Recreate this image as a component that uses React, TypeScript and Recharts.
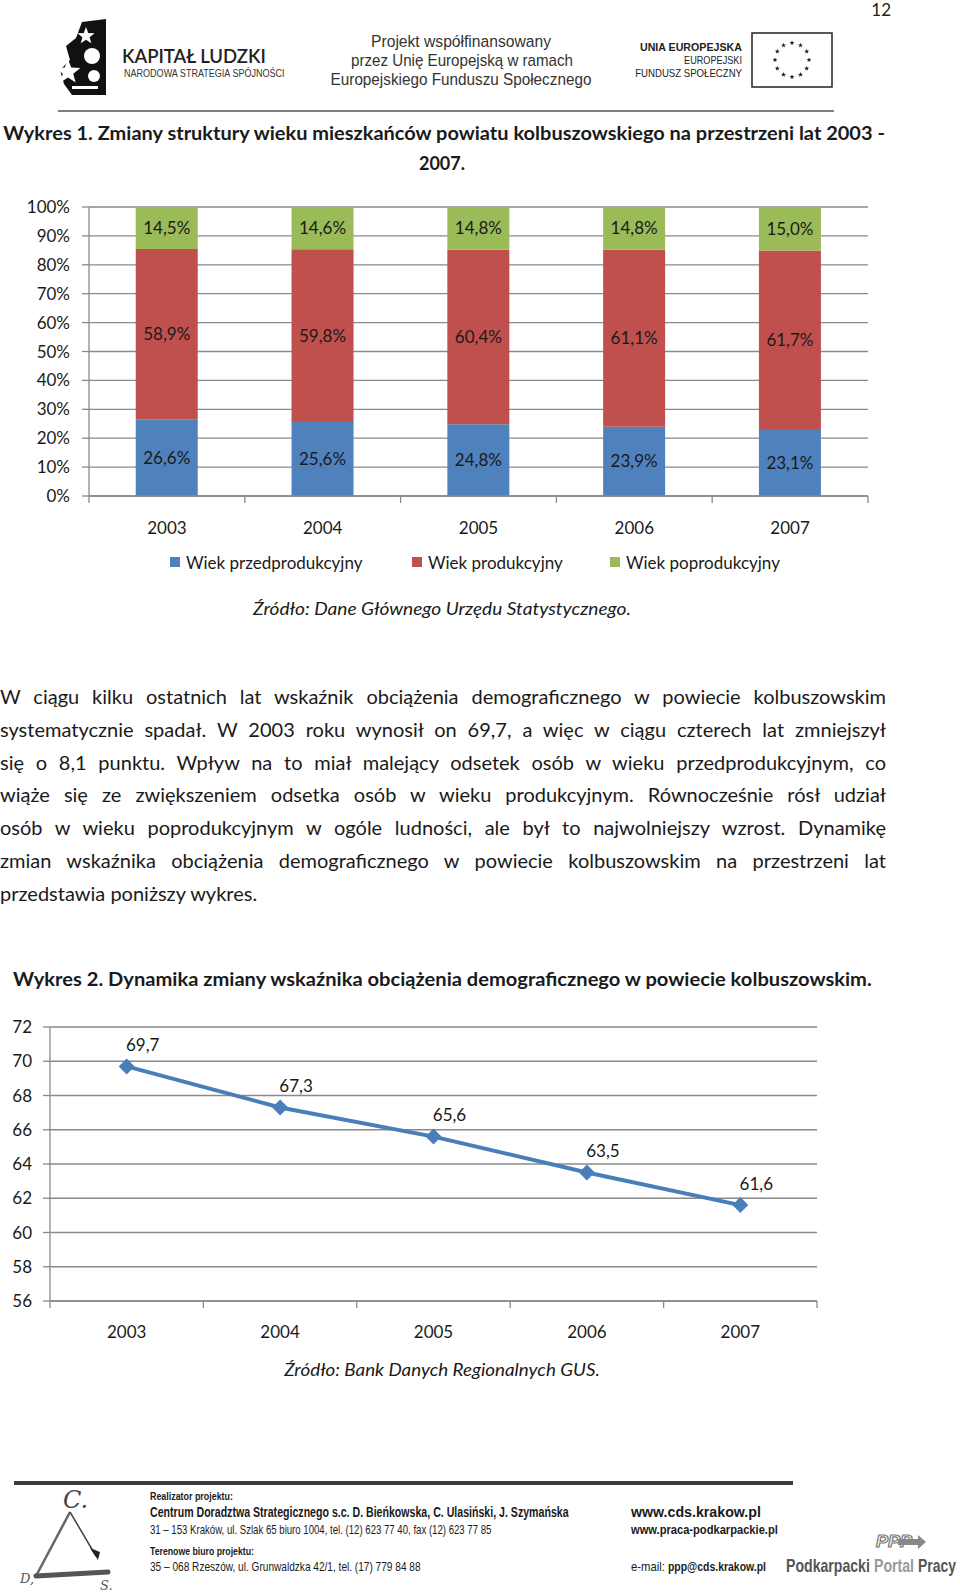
import React, { useLayoutEffect, useRef, useState } from "react";
import {
  Bar,
  BarChart,
  CartesianGrid,
  LabelList,
  Legend,
  Line,
  LineChart,
  XAxis,
  YAxis,
} from "recharts";

// ---- data ----
const years = ["2003", "2004", "2005", "2006", "2007"];
const preProductive = [26.6, 25.6, 24.8, 23.9, 23.1];
const productive = [58.9, 59.8, 60.4, 61.1, 61.7];
const postProductive = [14.5, 14.6, 14.8, 14.8, 15.0];
const pctTicks = [0, 0.1, 0.2, 0.3, 0.4, 0.5, 0.6, 0.7, 0.8, 0.9, 1];

const dependencyRatio = [69.7, 67.3, 65.6, 63.5, 61.6];
const ratioTicks = [56, 58, 60, 62, 64, 66, 68, 70, 72];

const seriesNames = ["Wiek przedprodukcyjny", "Wiek produkcyjny", "Wiek poprodukcyjny"];

const paragraph = [
  "W ciągu kilku ostatnich lat wskaźnik obciążenia demograficznego w powiecie kolbuszowskim",
  "systematycznie spadał. W 2003 roku wynosił on 69,7, a więc w ciągu czterech lat zmniejszył",
  "się o 8,1 punktu. Wpływ na to miał malejący odsetek osób w wieku przedprodukcyjnym, co",
  "wiąże się ze zwiększeniem odsetka osób w wieku produkcyjnym. Równocześnie rósł udział",
  "osób w wieku poprodukcyjnym w ogóle ludności, ale był to najwolniejszy wzrost. Dynamikę",
  "zmian wskaźnika obciążenia demograficznego w powiecie kolbuszowskim na przestrzeni lat",
  "przedstawia poniższy wykres.",
];

const structureRows = years.map((year, i) => ({
  year,
  pre: preProductive[i],
  prod: productive[i],
  post: postProductive[i],
}));
const ratioRows = years.map((year, i) => ({ year, value: dependencyRatio[i] }));

// ---- look ----
const FONT = "Lato, 'Open Sans', sans-serif";
const NARROW = "'Liberation Sans Narrow', 'Liberation Sans', Roboto, sans-serif";
const GRID = "#8a8a8a";
const INK = "#1a1a1a";
const BLUE = "#4F81BD";
const RED = "#C0504D";
const GREEN = "#9BBB59";
const LINE_BLUE = "#4A7EBB";

const C1 = { w: 900, h: 400, top: 17, right: 32, left: 89, bottom: 14 };
const C1_BAND = (C1.w - C1.left - C1.right) / years.length;
const C2 = { w: 900, h: 350, top: 27, right: 83, left: 50 };
const C2_BAND = (C2.w - C2.left - C2.right) / years.length;

const comma = (v: number) => v.toFixed(1).replace(".", ",");

function BoundaryTick(props: any) {
  const { x, y, payload, index, band, dy } = props;
  const last = index === years.length - 1;
  return (
    <g>
      <line x1={x - band / 2} x2={x - band / 2} y1={y} y2={y + 7} stroke={GRID} strokeWidth={1.3} />
      {last && <line x1={x + band / 2} x2={x + band / 2} y1={y} y2={y + 7} stroke={GRID} strokeWidth={1.3} />}
      <text x={x} y={y + dy} textAnchor="middle" dominantBaseline="central" fill={INK} fontSize={17} fontFamily={FONT}>
        {payload.value}
      </text>
    </g>
  );
}

function Diamond(props: any) {
  const { cx, cy } = props;
  if (cx == null || cy == null) return null;
  const r = 8;
  return <polygon points={`${cx},${cy - r} ${cx + r},${cy} ${cx},${cy + r} ${cx - r},${cy}`} fill={LINE_BLUE} />;
}

function PointLabel(props: any) {
  const { x, y, value } = props;
  return (
    <text x={x + 16} y={y - 22} textAnchor="middle" dominantBaseline="central" fill={INK} fontSize={17} fontFamily={FONT}>
      {comma(value)}
    </text>
  );
}

const legendX = [170, 412, 610];
function StructureLegend(props: any) {
  const items = [...(props.payload || [])].sort(
    (a: any, b: any) => seriesNames.indexOf(a.value) - seriesNames.indexOf(b.value)
  );
  return (
    <div style={{ position: "relative", height: 28, width: C1.w - C1.right }}>
      {items.map((it: any, i: number) => (
        <div
          key={it.value}
          style={{ position: "absolute", left: legendX[i], top: 0, height: 28, display: "flex", alignItems: "center" }}
        >
          <span style={{ width: 10, height: 10, background: it.color, marginRight: 6 }} />
          <span style={{ fontFamily: FONT, fontSize: 17, color: INK, whiteSpace: "nowrap" }}>{it.value}</span>
        </div>
      ))}
    </div>
  );
}

// text squeezed/stretched horizontally to a measured width (w) with a transform,
// so the glyphs keep their height like the condensed faces on the page
function T(p: {
  x: number;
  y: number;
  w?: number;
  size: number;
  weight?: number | string;
  italic?: boolean;
  anchor?: "start" | "middle" | "end";
  fill?: string;
  family?: string;
  stroke?: string;
  children: React.ReactNode;
}) {
  const ref = useRef<SVGTextElement>(null);
  const [sx, setSx] = useState(1);
  useLayoutEffect(() => {
    if (!p.w || !ref.current) return;
    const natural = ref.current.getComputedTextLength();
    if (natural > 0) setSx(p.w / natural);
  }, [p.w]);
  return (
    <text
      ref={ref}
      x={0}
      y={0}
      transform={`translate(${p.x},${p.y}) scale(${sx},1)`}
      fontSize={p.size}
      fontWeight={p.weight}
      fontStyle={p.italic ? "italic" : undefined}
      textAnchor={p.anchor || "start"}
      fill={p.fill || INK}
      stroke={p.stroke}
      strokeWidth={p.stroke ? 1.1 : undefined}
      fontFamily={p.family || FONT}
    >
      {p.children}
    </text>
  );
}

function starPoints(cx: number, cy: number, r: number) {
  const pts: string[] = [];
  for (let k = 0; k < 10; k++) {
    const a = -Math.PI / 2 + (k * Math.PI) / 5;
    const rr = k % 2 === 0 ? r : r * 0.42;
    pts.push(`${cx + rr * Math.cos(a)},${cy + rr * Math.sin(a)}`);
  }
  return pts.join(" ");
}

function PageDecor() {
  const euStars = Array.from({ length: 12 }, (_, k) => {
    const a = (k * Math.PI) / 6;
    return starPoints(792 + 17 * Math.cos(a), 60 + 17 * Math.sin(a), 2.6);
  });
  return (
    <svg width={960} height={1594} style={{ position: "absolute", left: 0, top: 0 }}>
      <T x={891} y={16} size={17} anchor="end" fill="#222">12</T>

      {/* Kapitał Ludzki sign */}
      <polygon points="82,22 106,19 106,95 72,95 64,84 60,70 70,60 66,46 76,38" fill="#111" />
      <polygon points={starPoints(86, 36, 9)} fill="#fff" />
      <polygon points={starPoints(68, 72, 13)} fill="#fff" />
      <circle cx={92} cy={56} r={8} fill="#fff" />
      <circle cx={94} cy={76} r={6} fill="#fff" />
      <rect x={72} y={86} width={26} height={3} fill="#fff" />
      <T x={122} y={63} w={144} size={20} weight={600} fill="#222">KAPITAŁ LUDZKI</T>
      <T x={124} y={77} w={161} size={10} fill="#333" family={NARROW}>NARODOWA STRATEGIA SPÓJNOŚCI</T>

      <T x={461} y={47} w={180} size={17} anchor="middle" fill="#333" family={NARROW}>Projekt współfinansowany</T>
      <T x={462} y={66} w={222} size={17} anchor="middle" fill="#333" family={NARROW}>przez Unię Europejską w ramach</T>
      <T x={461} y={85} w={261} size={17} anchor="middle" fill="#333" family={NARROW}>Europejskiego Funduszu Społecznego</T>

      <T x={640} y={51} w={102} size={11} weight={700} fill="#222" family={NARROW}>UNIA EUROPEJSKA</T>
      <T x={742} y={64} w={58} size={10} anchor="end" fill="#222" family={NARROW}>EUROPEJSKI</T>
      <T x={742} y={77} w={107} size={10} anchor="end" fill="#222" family={NARROW}>FUNDUSZ SPOŁECZNY</T>
      <rect x={752} y={33} width={80} height={54} fill="#fff" stroke="#222" strokeWidth={1.5} />
      {euStars.map((pts, k) => (
        <polygon key={k} points={pts} fill="#222" />
      ))}

      <line x1={58} x2={834} y1={111} y2={111} stroke="#555" strokeWidth={1.5} />

      <T x={444} y={140} w={882} size={18} weight={700} anchor="middle">
        Wykres 1. Zmiany struktury wieku mieszkańców powiatu kolbuszowskiego na przestrzeni lat 2003 -
      </T>
      <T x={442} y={170} size={18} weight={700} anchor="middle">2007.</T>

      <T x={442} y={615} w={378} size={17} italic anchor="middle">Źródło: Dane Głównego Urzędu Statystycznego.</T>

      <T x={13} y={986} w={859} size={18} weight={700}>
        Wykres 2. Dynamika zmiany wskaźnika obciążenia demograficznego w powiecie kolbuszowskim.
      </T>

      <T x={442} y={1376} w={316} size={17} italic anchor="middle">Źródło: Bank Danych Regionalnych GUS.</T>

      {/* footer */}
      <rect x={14} y={1481} width={779} height={4} fill="#3c3c3c" />
      <T x={63} y={1508} size={24} italic fill="#444" family="'DejaVu Serif', serif">C.</T>
      <T x={20} y={1583} size={13} italic fill="#555" family="'DejaVu Serif', serif">D,</T>
      <T x={100} y={1590} size={13} italic fill="#555" family="'DejaVu Serif', serif">S.</T>
      <line x1={70} y1={1512} x2={36} y2={1576} stroke="#666" strokeWidth={2.5} />
      <line x1={70} y1={1512} x2={96} y2={1556} stroke="#444" strokeWidth={1.5} />
      <polygon points="90,1548 100,1552 98,1560" fill="#222" />
      <line x1={36} y1={1576} x2={108} y2={1572} stroke="#555" strokeWidth={5} strokeLinecap="round" />

      <T x={150} y={1500} w={83} size={10} weight={700} family={NARROW}>Realizator projektu:</T>
      <T x={150} y={1517} w={419} size={14} weight={700} family={NARROW}>
        Centrum Doradztwa Strategicznego s.c.  D. Bieńkowska, C. Ulasiński, J. Szymańska
      </T>
      <T x={150} y={1534} w={342} size={12} family={NARROW}>
        31 – 153 Kraków, ul. Szlak 65 biuro 1004, tel. (12) 623 77 40, fax (12) 623 77 85
      </T>
      <T x={150} y={1555} w={104} size={10} weight={700} family={NARROW}>Terenowe biuro projektu:</T>
      <T x={150} y={1571} w={271} size={12} family={NARROW}>35 – 068 Rzeszów, ul. Grunwaldzka 42/1, tel. (17) 779 84 88</T>

      <T x={631} y={1517} w={130} size={14} weight={700} family={NARROW}>www.cds.krakow.pl</T>
      <T x={631} y={1534} w={147} size={13} weight={700} family={NARROW}>www.praca-podkarpackie.pl</T>
      <T x={631} y={1571} w={34} size={13} family={NARROW}>e-mail:</T>
      <T x={668} y={1571} w={98} size={13} weight={700} family={NARROW}>ppp@cds.krakow.pl</T>

      <T x={876} y={1547} w={36} size={16} weight={700} italic fill="#fff" stroke="#777" family={NARROW}>PPP</T>
      <polygon points="898,1539 918,1539 918,1535 926,1542 918,1549 918,1545 898,1545" fill="#888" />
      <T x={786} y={1572} w={84} size={18} weight={700} fill="#555" family={NARROW}>Podkarpacki</T>
      <T x={874} y={1572} w={40} size={18} weight={700} fill="#999" family={NARROW}>Portal</T>
      <T x={918} y={1572} w={38} size={18} weight={700} fill="#555" family={NARROW}>Pracy</T>
    </svg>
  );
}

function StructureChart() {
  return (
    <BarChart
      width={C1.w}
      height={C1.h}
      data={structureRows}
      stackOffset="expand"
      barCategoryGap="30%"
      margin={{ top: C1.top, right: C1.right, left: 0, bottom: C1.bottom }}
    >
      <CartesianGrid vertical={false} stroke={GRID} strokeWidth={1.3} />
      <XAxis
        dataKey="year"
        height={52}
        tickSize={0}
        tickMargin={0}
        axisLine={{ stroke: GRID, strokeWidth: 1.3 }}
        tick={(p: any) => <BoundaryTick {...p} band={C1_BAND} dy={31} />}
        interval={0}
      />
      <YAxis
        width={C1.left}
        domain={[0, 1]}
        ticks={pctTicks}
        interval={0}
        tickSize={7}
        tickMargin={12}
        tickLine={{ stroke: GRID, strokeWidth: 1.3 }}
        axisLine={{ stroke: GRID, strokeWidth: 1.3 }}
        tick={{ fill: INK, fontSize: 17, fontFamily: FONT }}
        tickFormatter={(v: number) => `${Math.round(v * 100)}%`}
      />
      <Legend verticalAlign="bottom" content={<StructureLegend />} />
      <Bar dataKey="pre" name={seriesNames[0]} stackId="a" fill={BLUE} isAnimationActive={false}>
        <LabelList dataKey="pre" position="center" formatter={(v: any) => `${comma(Number(v))}%`} fill={INK} fontSize={17} fontFamily={FONT} />
      </Bar>
      <Bar dataKey="prod" name={seriesNames[1]} stackId="a" fill={RED} isAnimationActive={false}>
        <LabelList dataKey="prod" position="center" formatter={(v: any) => `${comma(Number(v))}%`} fill={INK} fontSize={17} fontFamily={FONT} />
      </Bar>
      <Bar dataKey="post" name={seriesNames[2]} stackId="a" fill={GREEN} isAnimationActive={false}>
        <LabelList dataKey="post" position="center" formatter={(v: any) => `${comma(Number(v))}%`} fill={INK} fontSize={17} fontFamily={FONT} />
      </Bar>
    </BarChart>
  );
}

function RatioChart() {
  return (
    <LineChart
      width={C2.w}
      height={C2.h}
      data={ratioRows}
      margin={{ top: C2.top, right: C2.right, left: 0, bottom: 0 }}
    >
      <CartesianGrid vertical={false} stroke={GRID} strokeWidth={1.3} />
      <XAxis
        dataKey="year"
        height={49}
        tickSize={0}
        tickMargin={0}
        padding={{ left: C2_BAND / 2, right: C2_BAND / 2 }}
        axisLine={{ stroke: GRID, strokeWidth: 1.3 }}
        tick={(p: any) => <BoundaryTick {...p} band={C2_BAND} dy={30} />}
        interval={0}
      />
      <YAxis
        width={C2.left}
        domain={[56, 72]}
        ticks={ratioTicks}
        interval={0}
        tickSize={7}
        tickMargin={11}
        tickLine={{ stroke: GRID, strokeWidth: 1.3 }}
        axisLine={{ stroke: GRID, strokeWidth: 1.3 }}
        tick={{ fill: INK, fontSize: 17, fontFamily: FONT }}
      />
      <Line
        type="linear"
        dataKey="value"
        stroke={LINE_BLUE}
        strokeWidth={4}
        dot={<Diamond />}
        activeDot={false}
        isAnimationActive={false}
      >
        <LabelList dataKey="value" content={<PointLabel />} />
      </Line>
    </LineChart>
  );
}

export default function App() {
  return (
    <div style={{ position: "absolute", left: 0, top: 0, width: 960, height: 1594, background: "#fff", overflow: "hidden" }}>
      <PageDecor />
      <div style={{ position: "absolute", left: 0, top: 190 }}>
        <StructureChart />
      </div>
      <div
        style={{
          position: "absolute",
          left: 0,
          top: 680,
          width: 886,
          fontFamily: FONT,
          fontSize: 20,
          lineHeight: "32.8px",
          color: INK,
        }}
      >
        {paragraph.map((line, i) => (
          <div
            key={i}
            style={{ textAlign: "justify", textAlignLast: i === paragraph.length - 1 ? "left" : "justify" }}
          >
            {line}
          </div>
        ))}
      </div>
      <div style={{ position: "absolute", left: 0, top: 1000 }}>
        <RatioChart />
      </div>
    </div>
  );
}
